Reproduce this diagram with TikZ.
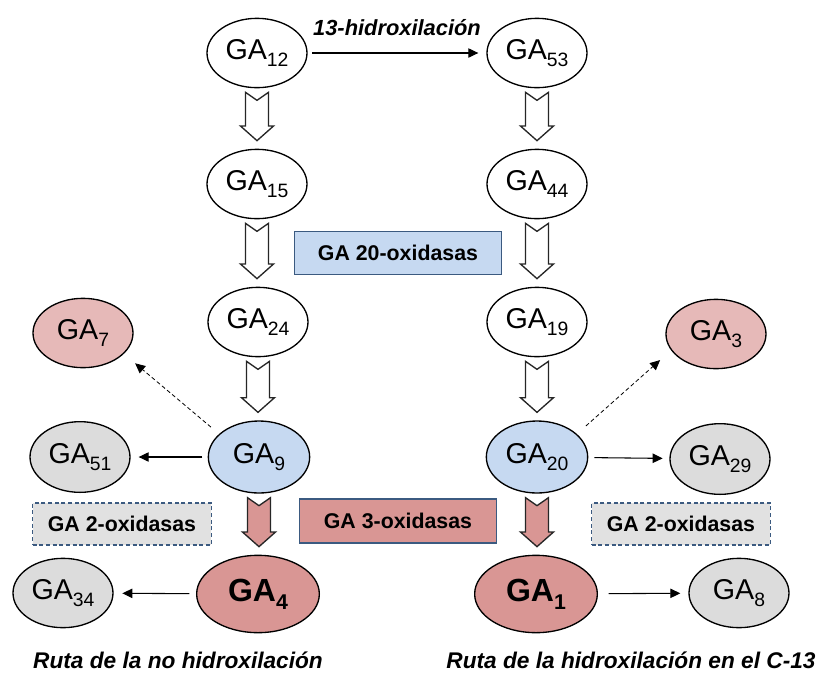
\documentclass[tikz,border=0pt]{standalone}
\usepackage{fontspec}
\setmainfont{Liberation Sans}
\usetikzlibrary{shapes.geometric,arrows.meta,calc}
\definecolor{lblue}{HTML}{C6D9F1}
\definecolor{lpink}{HTML}{E6B9B8}
\definecolor{dpink}{HTML}{D99694}
\definecolor{lgray}{HTML}{DCDCDC}
\definecolor{bgray}{HTML}{E1E1E1}
\definecolor{bblue}{HTML}{3B5A80}
\newcommand\gs[1]{\raisebox{-5.7pt}{\fontsize{14.5pt}{15pt}\selectfont #1}}
\newcommand\gbs[1]{\raisebox{-6pt}{\fontsize{16pt}{17pt}\selectfont\bfseries #1}}
\newcommand\blockarr[3]{%
  \path let \p1=($(#2.south)+(0,4)$), \p2=($(#3.north)+(0,-8)$) in
    [draw=black!85, line width=1pt, fill=#1, line join=miter]
    (\x1-8.6pt,\y1) -- (\x1,\y1-6pt) -- (\x1+8.6pt,\y1) -- (\x1+8.6pt,\y2+11pt)
    -- (\x1+12.4pt,\y2+11pt) -- (\x1,\y2) -- (\x1-12.4pt,\y2+11pt)
    -- (\x1-8.6pt,\y2+11pt) -- cycle;}
\tikzset{
  ga/.style={ellipse, draw=black, line width=1pt, minimum width=75pt,
    minimum height=52pt, inner sep=0pt, font=\fontsize{21.5pt}{23pt}\selectfont},
  gabig/.style={ga, minimum width=92pt, minimum height=58pt, fill=dpink,
    font=\fontsize{24pt}{26pt}\selectfont\bfseries},
  enz/.style={draw=bblue, line width=1.2pt, inner sep=0pt,
    font=\fontsize{16pt}{18pt}\selectfont\bfseries},
  conn/.style={line width=0.8pt, -{Triangle[length=7.5pt,width=7pt]}},
  dconn/.style={conn, dash pattern=on 3pt off 2pt, line width=0.6pt},
  route/.style={font=\fontsize{17pt}{19pt}\selectfont\bfseries\itshape}
}
\begin{document}
\begin{tikzpicture}[x=0.75pt,y=-0.75pt]
\useasboundingbox (0,0) rectangle (822,676);
% left column
\node[ga] (ga12) at (257,53) {GA\gs{12}};
\node[ga] (ga15) at (257,184) {GA\gs{15}};
\node[ga] (ga24) at (258,322) {GA\gs{24}};
\node[ga, fill=lblue, minimum width=76pt, minimum height=54pt] (ga9) at (259,457) {GA\gs{9}};
\node[gabig] (ga4) at (258,594) {GA\gbs{4}};
% right column
\node[ga] (ga53) at (537,53) {GA\gs{53}};
\node[ga] (ga44) at (537,184) {GA\gs{44}};
\node[ga] (ga19) at (537,322) {GA\gs{19}};
\node[ga, fill=lblue, minimum width=76pt, minimum height=54pt] (ga20) at (537,457) {GA\gs{20}};
\node[gabig] (ga1) at (536,594) {GA\gbs{1}};
% side products
\node[ga, fill=lpink] (ga7) at (83,333) {GA\gs{7}};
\node[ga, fill=lpink] (ga3) at (716,334) {GA\gs{3}};
\node[ga, fill=lgray, minimum height=53pt] (ga51) at (80,457) {GA\gs{51}};
\node[ga, fill=lgray, minimum height=53pt] (ga29) at (720,459) {GA\gs{29}};
\node[ga, fill=lgray] (ga34) at (63,593) {GA\gs{34}};
\node[ga, fill=lgray] (ga8) at (739,593) {GA\gs{8}};
% enzyme boxes
\node[enz, fill=lblue, minimum width=155pt, minimum height=32pt] (ox20) at (398,253) {GA 20-oxidasas};
\node[enz, fill=dpink, minimum width=148pt, minimum height=33pt] (ox3) at (398,521) {GA 3-oxidasas};
\node[enz, fill=bgray, dash pattern=on 3pt off 2pt, minimum width=134pt, minimum height=31.5pt] (ox2l) at (122,524) {GA 2-oxidasas};
\node[enz, fill=bgray, dash pattern=on 3pt off 2pt, minimum width=134pt, minimum height=31.5pt] (ox2r) at (681,524) {GA 2-oxidasas};
% block arrows
\blockarr{white}{ga12}{ga15}
\blockarr{white}{ga15}{ga24}
\blockarr{white}{ga24}{ga9}
\blockarr{dpink}{ga9}{ga4}
\blockarr{white}{ga53}{ga44}
\blockarr{white}{ga44}{ga19}
\blockarr{white}{ga19}{ga20}
\blockarr{dpink}{ga20}{ga1}
% thin connectors
\draw[conn, shorten <=3.5pt, shorten >=6pt] (ga12) -- node[above=9pt, font=\fontsize{16.4pt}{18pt}\selectfont\bfseries\itshape] (lbl) {13-hidroxilación} (ga53);
\draw[conn, shorten <=4pt, shorten >=6pt] (ga9) -- (ga51);
\draw[conn, shorten <=4.5pt, shorten >=5pt] (ga20) -- (ga29);
\draw[conn, shorten <=5pt, shorten >=6.5pt] (ga4) -- (ga34);
\draw[conn, shorten <=8pt, shorten >=6pt] (ga1) -- (ga8);
\draw[dconn, shorten <=8pt, shorten >=11pt] (ga9.150) -- (ga7.-27);
\draw[dconn, shorten <=9pt, shorten >=11pt] (ga20.30) -- (ga3.200);
% route labels
\node[route] (r1) at (178,660) {Ruta de la no hidroxilación};
\node[route] (r2) at (631,660) {Ruta de la hidroxilación en el C-13};
\end{tikzpicture}
\end{document}
